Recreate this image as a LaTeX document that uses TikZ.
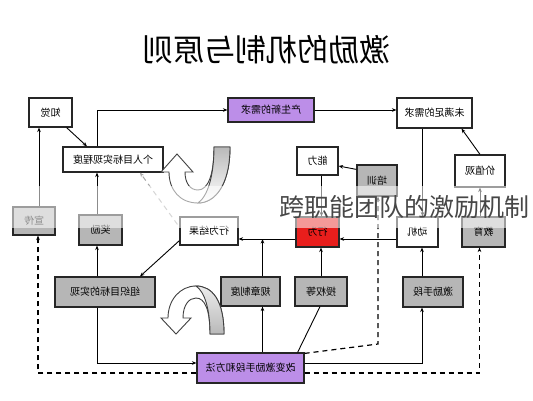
\documentclass[tikz,border=0pt]{standalone}
\usepackage{fontspec}
\setmainfont{Noto Sans CJK SC}
\usepackage{graphicx}
\usetikzlibrary{arrows.meta}

\definecolor{zise}{RGB}{188,142,232}
\definecolor{hongse}{RGB}{232,30,28}
\definecolor{huise}{RGB}{182,182,182}

\tikzset{
  kuang/.style={draw=black!85, line width=1.2pt, fill=white, inner sep=0pt,
    font=\fontsize{10}{10}\selectfont},
  hui/.style={kuang, fill=huise},
  jt/.style={line width=0.9pt, -{Stealth[length=4.5pt,width=3.6pt]}},
  xu/.style={jt, line width=1.2pt, dash pattern=on 5pt off 4pt}
}

\begin{document}
\begin{tikzpicture}[x=1pt, y=-1pt]
  \useasboundingbox (0,0) rectangle (533,400);
  \fill[white] (0,0) rectangle (533,400);

  % 标题（镜像）
  \node (bt) at (266,50) {\fontsize{31}{31}\selectfont\reflectbox{激励的机制与原则}};

  % 上排
  \node[kuang, minimum width=43, minimum height=29] (zj) at (50.5,112.5) {\reflectbox{知觉}};
  \node[kuang, fill=zise, minimum width=86, minimum height=24] (xq) at (271,110) {\reflectbox{产生新的需求}};
  \node[kuang, minimum width=75, minimum height=30] (wm) at (434.5,113) {\reflectbox{未满足的需求}};

  % 第二排
  \node[kuang, minimum width=100, minimum height=25] (gr) at (113,159.5) {\reflectbox{个人目标实现程度}};
  \node[kuang, minimum width=41, minimum height=28] (nl) at (317.5,161) {\reflectbox{能力}};
  \node[hui, minimum width=40, minimum height=31] (px) at (377,180.5) {\reflectbox{培训}};
  \node[kuang, minimum width=50, minimum height=32] (jz) at (480,171) {\reflectbox{价值观}};

  % 中排
  \node[hui, minimum width=42, minimum height=28] (xc) at (34,221) {\reflectbox{宣传}};
  \node[hui, minimum width=43, minimum height=30] (jl) at (100.5,230) {\reflectbox{奖励}};
  \node[kuang, minimum width=58, minimum height=28] (jg) at (209,231) {\reflectbox{行为结果}};
  \node[kuang, fill=hongse, minimum width=43, minimum height=30] (xw) at (317.5,232) {\reflectbox{行为}};
  \node[kuang, minimum width=41, minimum height=30] (dj) at (417.5,232) {\reflectbox{动机}};
  \node[hui, minimum width=43, minimum height=30] (jy) at (483.5,232) {\reflectbox{教育}};

  % 下排
  \node[hui, minimum width=100, minimum height=30] (zz) at (105,292) {\reflectbox{组织目标的实现}};
  \node[hui, minimum width=59, minimum height=29] (gz) at (250.5,291.5) {\reflectbox{规章制度}};
  \node[hui, minimum width=52, minimum height=29] (sq) at (321,291.5) {\reflectbox{授权等}};
  \node[hui, minimum width=60, minimum height=30] (js) at (433,292) {\reflectbox{激励手段}};
  \node[kuang, fill=zise, minimum width=107, minimum height=30] (gb) at (250.5,368) {\reflectbox{改变激励手段和方法}};

  % 实线箭头
  \draw[jt] ([xshift=5]xc.north) -- ([xshift=5]xc.north |- zj.south);
  \draw[jt] ([xshift=-6]zj.south east) -- ([xshift=-26]gr.north);
  \draw[jt] ([xshift=-16]gr.north) |- (xq.west);
  \draw[jt] (xq.east) -- (xq.east -| wm.west);
  \draw[jt] ([xshift=-12]wm.south) -- ([xshift=-12]wm.south |- dj.north);
  \draw[jt] (jz.north) -- ([xshift=27]wm.south);
  \draw[jt] (jz.south |- jy.north) -- (jz.south);
  \draw[jt] ([yshift=-5]px.north west) -- ([yshift=-5]nl.east);
  \draw[jt] ([xshift=4]nl.south) -- ([xshift=4]nl.south |- xw.north);
  \draw[jt] ([yshift=-7]dj.west) -- ([yshift=-7]dj.west -| xw.east);
  \draw[jt] ([yshift=-7]xw.west) coordinate (xwo) -- (xwo -| jg.east);
  \draw[jt] ([xshift=12]gz.north) -- ([xshift=12]gz.north |- xwo);
  \draw[jt] (sq.north) -- (sq.north |- xw.south);
  \draw[jt] ([xshift=-11]js.north) -- ([xshift=-11]js.north |- dj.south);
  \draw[jt] ([yshift=5]jg.south west) -- ([xshift=35]zz.north);
  \draw[jt] ([xshift=-8]zz.north) -- ([xshift=-8]zz.north |- jl.south);
  \draw[jt] ([xshift=-3.5]jl.north) -- ([xshift=-3.5]jl.north |- gr.south);
  \draw[jt] ([xshift=-8]zz.south) |- ([yshift=5]gb.west);
  \draw[jt] ([xshift=12]gz.south |- gb.north) -- ([xshift=12]gz.south);
  \draw[line width=0.9pt] ([xshift=-7]gb.north east) -- ([xshift=-1]sq.south);
  \draw[jt] ([yshift=5]gb.east) -| ([xshift=-11]js.south);

  % 虚线
  \draw[xu] ([yshift=-5]gb.west) -| ([xshift=4]xc.south);
  \draw[xu] ([yshift=-5]gb.east) -| ([xshift=-4]jy.south);
  \coordinate (zd) at (378,344);
  \draw[xu] ([yshift=-1]gb.north east) -- (zd) -- (zd |- px.south);
  \draw[xu, line width=1pt, draw=gray!70] ([xshift=-2,yshift=-8]jg.north west) -- ([xshift=27]gr.south);

  % 上方空心弯箭头
  \draw[line width=0.9pt, draw=black!75, fill=white]
    (230,147) .. controls (230,185) and (215,203) .. (198,203)
    .. controls (180,203) and (169,190) .. (169,172)
    -- (161,172) -- (177,154) -- (193,172) -- (185,172)
    .. controls (185,183) and (190,190) .. (198,190)
    .. controls (208,190) and (214,175) .. (214,147) -- cycle;
  \draw[line width=0.9pt, draw=black!75, top color=gray!55, bottom color=white]
    (230,147) .. controls (230,185) and (215,203) .. (198,203)
    .. controls (208,196) and (214,175) .. (214,147) -- cycle;

  % 下方空心弯箭头
  \draw[line width=0.9pt, draw=black!75, fill=white]
    (224,334) .. controls (224,300) and (212,286) .. (196,286)
    .. controls (180,286) and (168,300) .. (168,318)
    -- (161,318) -- (176,334) -- (191,318) -- (183,318)
    .. controls (183,305) and (189,298) .. (196,298)
    .. controls (205,298) and (210,310) .. (210,334) -- cycle;
  \draw[line width=0.9pt, draw=black!75, bottom color=gray!55, top color=gray!15]
    (224,334) .. controls (224,300) and (212,286) .. (196,286)
    .. controls (205,292) and (210,310) .. (210,334) -- cycle;

  % 半透明水印
  \fill[white, opacity=0.55] (0,186) rectangle (533,228);
  \node[anchor=west, inner sep=0pt, text=black!72, font=\fontsize{25}{25}\selectfont] (sy) at (279,207) {跨职能团队的激励机制};
\end{tikzpicture}
\end{document}
